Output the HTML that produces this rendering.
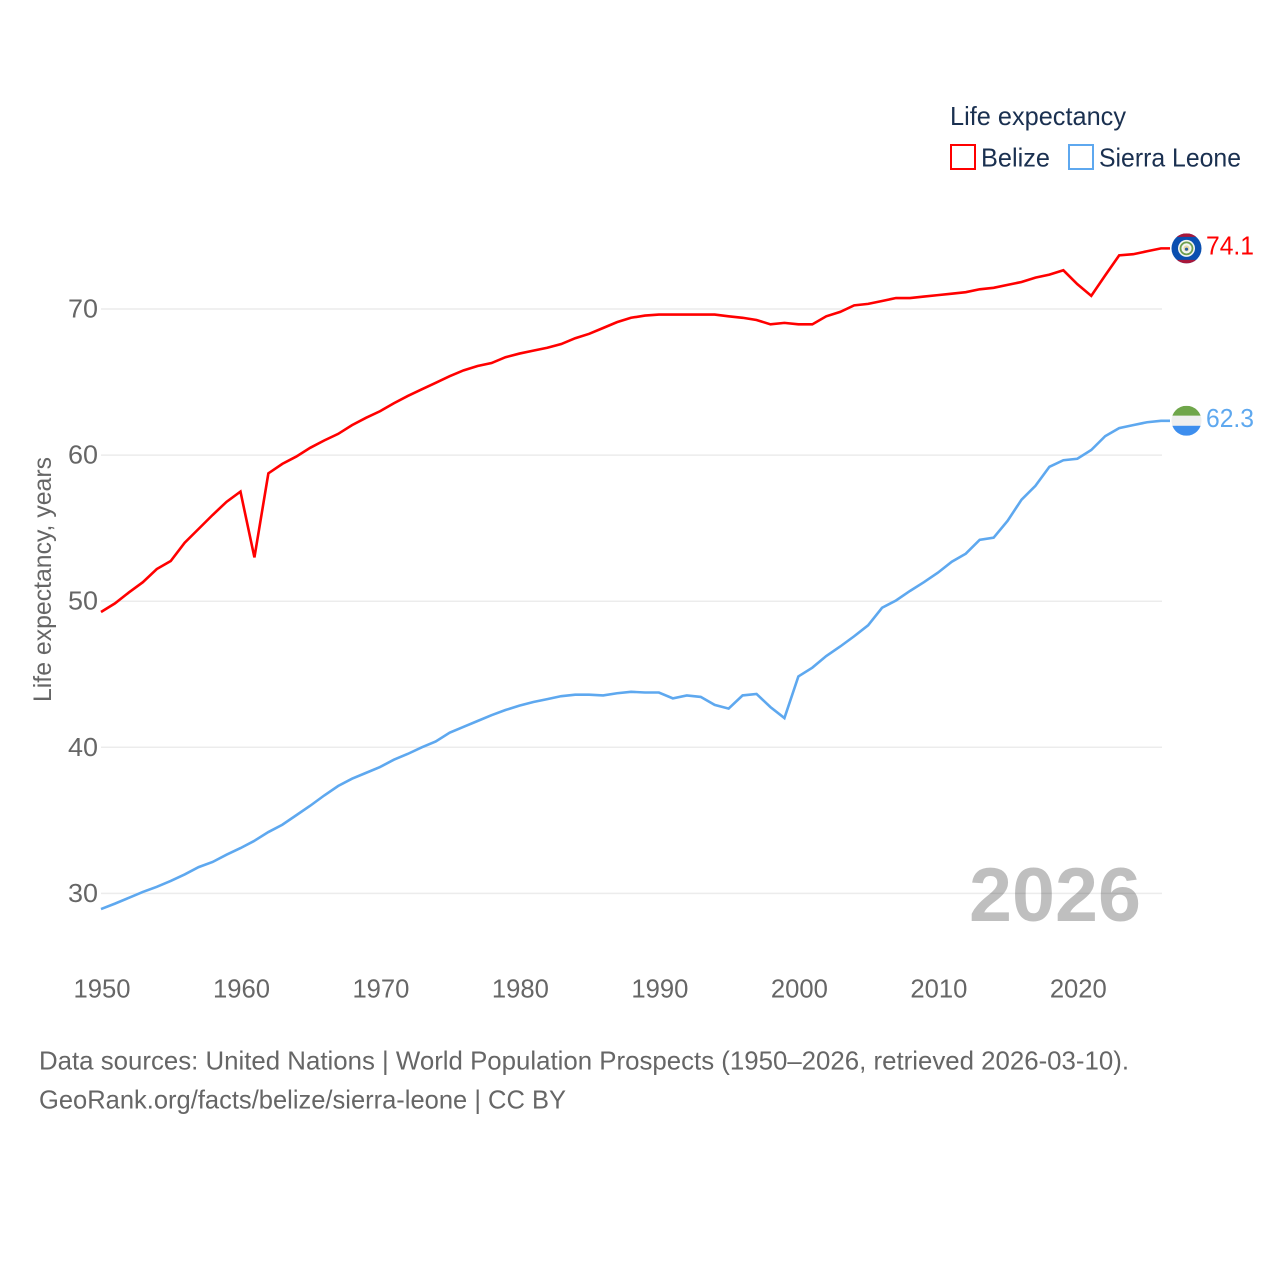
<!DOCTYPE html>
<html lang="en">
<head>
<meta charset="utf-8">
<title>Life expectancy: Belize and Sierra Leone</title>
<style>
html,body{margin:0;padding:0;background:#fff;}
svg{display:block;font-family:"Liberation Sans",sans-serif;}
</style>
</head>
<body>
<svg id="chart" width="1280" height="1280" viewBox="0 0 1280 1280" xmlns="http://www.w3.org/2000/svg">
  <defs>
    <clipPath id="flag-clip-a"><circle cx="0" cy="0" r="15"></circle></clipPath>
    <clipPath id="flag-clip-b"><circle cx="0" cy="0" r="15"></circle></clipPath>
  </defs>
  <rect x="0" y="0" width="1280" height="1280" fill="#ffffff"></rect>

  <g id="grid"></g>
  <g id="y-ticks"></g>
  <g id="x-ticks"></g>

  <text transform="translate(51,702) rotate(-90)" font-size="25" fill="#666666" textLength="245" lengthAdjust="spacingAndGlyphs">Life expectancy, years</text>

  <text x="969" y="921" font-size="76" font-weight="700" fill="#000000" fill-opacity="0.25" textLength="172" lengthAdjust="spacingAndGlyphs">2026</text>

  <g id="series"></g>

  <g id="flag-belize">
    <g clip-path="url(#flag-clip-a)">
      <rect x="-15" y="-15" width="30" height="30" fill="#0a4fb0"></rect>
      <rect x="-15" y="-15" width="30" height="3.5" fill="#a8173a"></rect>
      <rect x="-15" y="11.5" width="30" height="3.5" fill="#a8173a"></rect>
    </g>
    <circle cx="0" cy="0" r="8.5" fill="#f4f6f2"></circle>
    <circle cx="0" cy="0" r="6" fill="none" stroke="#6f9f4e" stroke-width="1.8"></circle>
    <circle cx="0" cy="0" r="3" fill="#e8d9a8"></circle>
    <circle cx="0" cy="0.8" r="1.6" fill="#2a5f9e"></circle>
  </g>
  <g id="flag-sierra-leone">
    <g clip-path="url(#flag-clip-b)">
      <rect x="-15" y="-15" width="30" height="10" fill="#6fa64a"></rect>
      <rect x="-15" y="-5" width="30" height="10" fill="#efefef"></rect>
      <rect x="-15" y="5" width="30" height="10" fill="#3d8eee"></rect>
    </g>
  </g>
  <g id="end-labels"></g>

  <g>
    <text x="950" y="125" font-size="26" fill="#1a3050" textLength="176" lengthAdjust="spacingAndGlyphs">Life expectancy</text>
    <g>
      <rect x="951" y="145" width="24" height="24" fill="#ffffff" stroke="#ff0000" stroke-width="2"></rect>
      <text x="981" y="166.5" font-size="26" fill="#1a3050" textLength="69" lengthAdjust="spacingAndGlyphs">Belize</text>
    </g>
    <g>
      <rect x="1069" y="145" width="24" height="24" fill="#ffffff" stroke="#5ea8ef" stroke-width="2"></rect>
      <text x="1099" y="166.5" font-size="26" fill="#1a3050" textLength="142" lengthAdjust="spacingAndGlyphs">Sierra Leone</text>
    </g>
  </g>

  <text x="39" y="1069.5" font-size="26" fill="#666666" textLength="1090" lengthAdjust="spacingAndGlyphs">Data sources: United Nations | World Population Prospects (1950–2026, retrieved 2026-03-10).</text>
  <text x="39" y="1108.5" font-size="26" fill="#666666" textLength="527" lengthAdjust="spacingAndGlyphs">GeoRank.org/facts/belize/sierra-leone | CC BY</text>
</svg>

<script>
const startYear = 1950;
const xTickLabels = [1950, 1960, 1970, 1980, 1990, 2000, 2010, 2020];
const yTickLabels = [30, 40, 50, 60, 70];
const belizeValues = [
  49.26, 49.85, 50.6, 51.3, 52.2, 52.75, 54.0, 54.95, 55.9, 56.8,
  57.5, 53.0, 58.75, 59.4, 59.9, 60.5, 61.0, 61.45, 62.05, 62.55,
  63.0, 63.55, 64.05, 64.5, 64.95, 65.4, 65.8, 66.1, 66.3, 66.7,
  66.95, 67.15, 67.35, 67.6, 68.0, 68.3, 68.7, 69.1, 69.4, 69.55,
  69.62, 69.62, 69.62, 69.62, 69.62, 69.5, 69.4, 69.25, 68.95, 69.05,
  68.95, 68.95, 69.5, 69.8, 70.25, 70.35, 70.55, 70.75, 70.75, 70.85,
  70.95, 71.05, 71.15, 71.35, 71.45, 71.65, 71.85, 72.15, 72.35, 72.65,
  71.7, 70.9, 72.3, 73.67, 73.75, 73.95, 74.15
];
const sierraLeoneValues = [
  28.93, 29.3, 29.7, 30.1, 30.45, 30.85, 31.3, 31.8, 32.15, 32.65,
  33.1, 33.6, 34.2, 34.7, 35.35, 36.0, 36.7, 37.35, 37.85, 38.25,
  38.65, 39.15, 39.55, 40.0, 40.4, 41.0, 41.4, 41.8, 42.2, 42.55,
  42.85, 43.1, 43.3, 43.5, 43.6, 43.6, 43.55, 43.7, 43.8, 43.75,
  43.75, 43.35, 43.55, 43.45, 42.9, 42.65, 43.55, 43.65, 42.75, 42.0,
  44.85, 45.45, 46.25, 46.9, 47.6, 48.35, 49.55, 50.05, 50.7, 51.3,
  51.95, 52.7, 53.25, 54.2, 54.35, 55.5, 56.95, 57.9, 59.2, 59.65,
  59.75, 60.35, 61.3, 61.85, 62.05, 62.25, 62.35
];
const belizeLabel = "74.1";
const sierraLeoneLabel = "62.3";

const SVG_NS = "http://www.w3.org/2000/svg";
const xScale = function (year) { return 101 + (year - 1950) * (1161 - 101) / 76; };
const yScale = function (value) { return 309 + (70 - value) * 14.61; };

function make(tag, attrs, parent, text) {
  const el = document.createElementNS(SVG_NS, tag);
  for (const k in attrs) { el.setAttribute(k, attrs[k]); }
  if (text !== undefined) { el.textContent = text; }
  parent.appendChild(el);
  return el;
}

const gridGroup = document.getElementById("grid");
const yTickGroup = document.getElementById("y-ticks");
const xTickGroup = document.getElementById("x-ticks");
const seriesGroup = document.getElementById("series");
const endLabelGroup = document.getElementById("end-labels");

yTickLabels.forEach(function (tick) {
  const line = make("line", { x1: xScale(1950), x2: xScale(2026) + 1, y1: yScale(tick), y2: yScale(tick), stroke: "#ececec", "stroke-width": 1.5 }, gridGroup);
  
  
  const label = make("text", { x: 98, y: yScale(tick) + 8.5, "text-anchor": "end", "font-size": 26, fill: "#666666", textLength: 30, lengthAdjust: "spacingAndGlyphs" }, yTickGroup, String(tick));
  
  
});

xTickLabels.forEach(function (tick) {
  const label = make("text", { x: xScale(tick) + 1, y: 997.5, "text-anchor": "middle", "font-size": 26, fill: "#666666", textLength: 57, lengthAdjust: "spacingAndGlyphs" }, xTickGroup, String(tick));
  
  
});

function linePoints(values) {
  const pts = values.map(function (v, i) {
    return xScale(startYear + i).toFixed(2) + "," + yScale(v).toFixed(2);
  });
  const last = values[values.length - 1];
  pts.push((xScale(startYear + values.length - 1) + 9).toFixed(2) + "," + yScale(last).toFixed(2));
  return pts.join(" ");
}

const belizeLine = make("polyline", { points: linePoints(belizeValues), fill: "none", stroke: "#ff0000", "stroke-width": 2.6, "stroke-linejoin": "miter" }, seriesGroup);



const sierraLeoneLine = make("polyline", { points: linePoints(sierraLeoneValues), fill: "none", stroke: "#5ea8ef", "stroke-width": 2.6, "stroke-linejoin": "miter" }, seriesGroup);



const belizeEnd = yScale(belizeValues[belizeValues.length - 1]);
const sierraLeoneEnd = yScale(sierraLeoneValues[sierraLeoneValues.length - 1]);
document.getElementById("flag-belize").setAttribute("transform", "translate(1186.5," + belizeEnd.toFixed(2) + ")");
document.getElementById("flag-sierra-leone").setAttribute("transform", "translate(1186.5," + sierraLeoneEnd.toFixed(2) + ")");

const belizeValueText = make("text", { x: 1206, y: belizeEnd + 6, "font-size": 26, fill: "#ff0000", textLength: 48, lengthAdjust: "spacingAndGlyphs" }, endLabelGroup, belizeLabel);



const sierraLeoneValueText = make("text", { x: 1206, y: sierraLeoneEnd + 6, "font-size": 26, fill: "#5ea8ef", textLength: 48, lengthAdjust: "spacingAndGlyphs" }, endLabelGroup, sierraLeoneLabel);


</script>
</body>
</html>
